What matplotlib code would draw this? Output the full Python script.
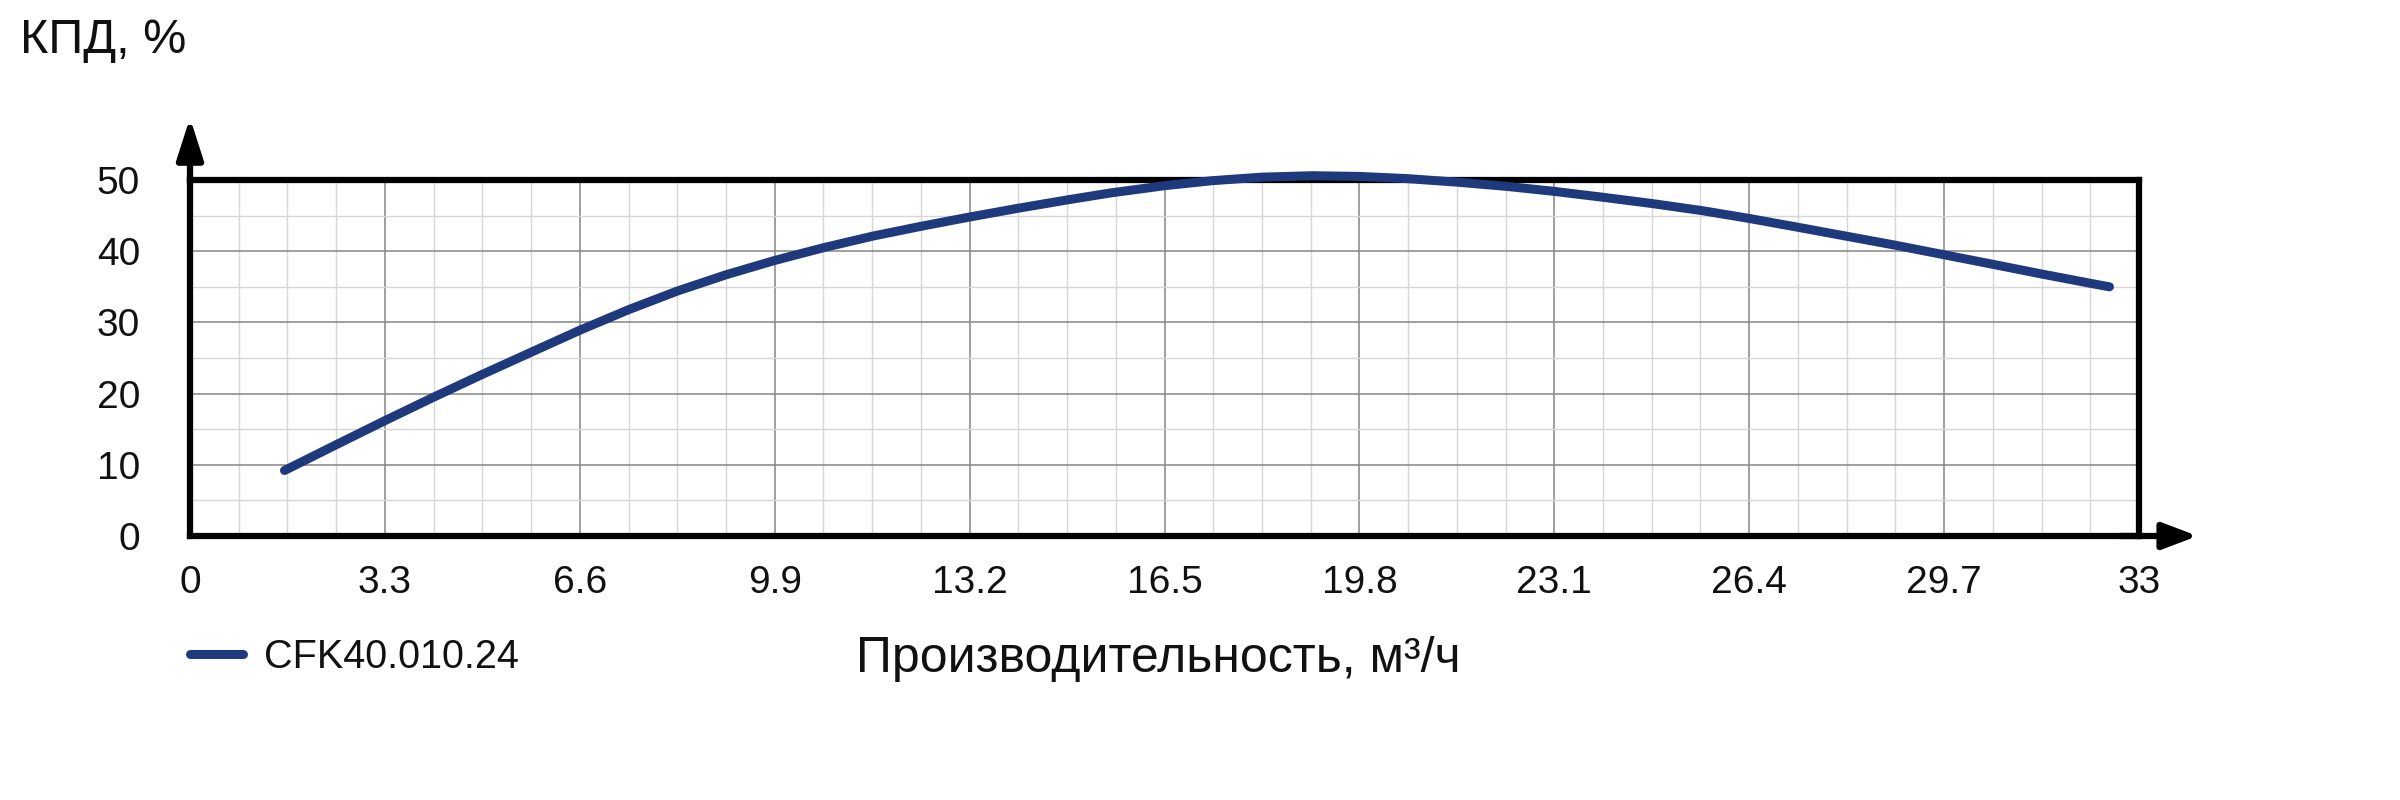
import matplotlib
matplotlib.use('Agg')
import matplotlib.pyplot as plt
from matplotlib.ticker import MultipleLocator

plt.rcParams['font.family'] = ['Liberation Sans', 'DejaVu Sans']

# Данные кривой КПД
q = [1.6, 2.47, 3.3, 4.1, 4.95, 5.8, 6.6, 7.43, 8.25, 9.08, 9.9, 10.73, 11.55,
     12.38, 13.2, 14.0, 14.85, 15.6, 16.5, 17.3, 18.15, 19.0, 19.8, 20.6, 21.45,
     22.3, 23.1, 23.9, 24.75, 25.6, 26.4, 27.2, 28.05, 28.9, 29.7, 30.5, 31.35,
     32.3, 32.5]
kpd = [9.2, 12.8, 16.2, 19.4, 22.7, 25.9, 28.9, 31.8, 34.4, 36.7, 38.7, 40.5, 42.1,
       43.5, 44.8, 46.0, 47.2, 48.2, 49.2, 49.9, 50.4, 50.6, 50.5, 50.2, 49.7,
       49.1, 48.4, 47.6, 46.7, 45.7, 44.6, 43.4, 42.1, 40.8, 39.5, 38.2, 36.8,
       35.3, 35.0]
x_ticks = [0, 3.3, 6.6, 9.9, 13.2, 16.5, 19.8, 23.1, 26.4, 29.7, 33]
x_labels = ['0', '3.3', '6.6', '9.9', '13.2', '16.5', '19.8', '23.1', '26.4', '29.7', '33']
y_ticks = [0, 10, 20, 30, 40, 50]
serie = 'CFK40.010.24'

cor = '#1f3a7c'
W, H = 2400, 800

fig = plt.figure(figsize=(24, 8), dpi=100)
ax = fig.add_axes([190 / W, 1 - 536 / H, (2139 - 190) / W, (536 - 180) / H])

linha, = ax.plot(q, kpd, color=cor, lw=6.5, solid_capstyle='round', clip_on=False, zorder=5, label=serie)

ax.set_xlim(0, 33)
ax.set_ylim(0, 50)
ax.set_xticks(x_ticks)
ax.set_xticklabels(x_labels)
ax.set_yticks(y_ticks)
ax.xaxis.set_minor_locator(MultipleLocator(0.825))
ax.yaxis.set_minor_locator(MultipleLocator(5))
ax.grid(which='major', color='#858585', lw=1.1)
ax.grid(which='minor', color='#d6d6d6', lw=1.0)
ax.set_axisbelow(True)
ax.tick_params(which='both', length=0)
ax.tick_params(axis='x', labelsize=28, pad=21, colors='#111111')
ax.tick_params(axis='y', labelsize=28, pad=36, colors='#111111')

for s in ax.spines.values():
    s.set_linewidth(4.5)
    s.set_color('black')
    s.set_capstyle('projecting')

# setas dos eixos
ax.annotate('', xy=(0, 1.175), xytext=(0, 0.99), xycoords='axes fraction',
            arrowprops=dict(arrowstyle='-|>,head_length=2.5,head_width=0.8', lw=4.5,
                            color='black', mutation_scale=10, shrinkA=0, shrinkB=0))
ax.annotate('', xy=(1.03, 0), xytext=(0.99, 0), xycoords='axes fraction',
            arrowprops=dict(arrowstyle='-|>,head_length=2.1,head_width=0.8', lw=4.5,
                            color='black', mutation_scale=10, shrinkA=0, shrinkB=0))

fig.text(20 / W, 1 - 53 / H, 'КПД, %', fontsize=35, va='baseline', color='#111111')
fig.text(1158 / W, 1 - 672 / H, 'Производительность, м³/ч', fontsize=36,
         ha='center', va='baseline', color='#111111')

ax.legend(handles=[linha], loc='center left', bbox_to_anchor=(190 / W, 1 - 657 / H),
          bbox_transform=fig.transFigure, frameon=False, fontsize=28.5,
          handlelength=1.34, handletextpad=0.54, borderpad=0, borderaxespad=0,
          labelcolor='#111111')

fig.savefig('out.png', dpi=100, facecolor='white')
